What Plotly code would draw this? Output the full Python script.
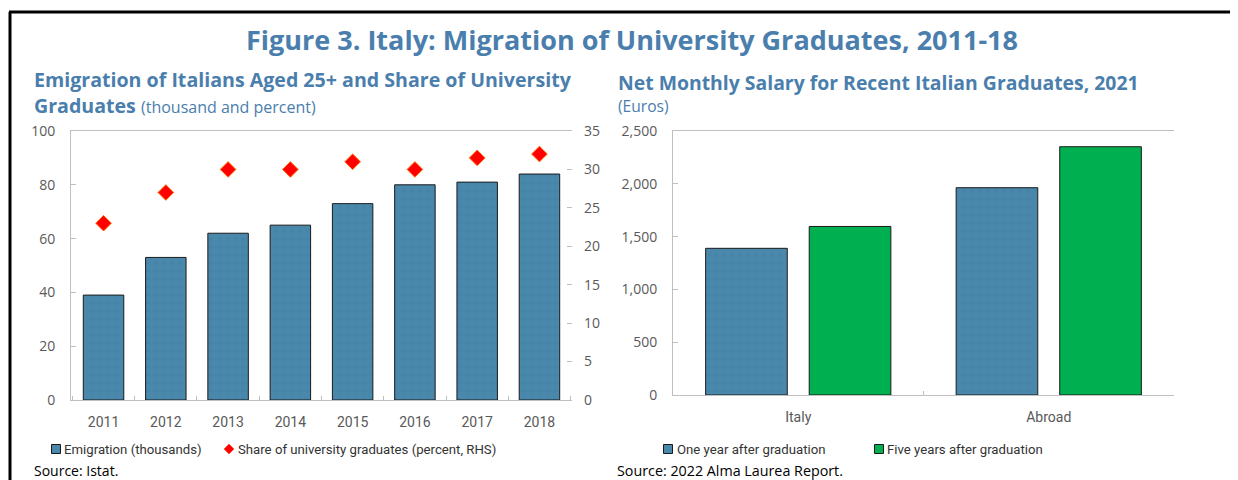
import plotly.graph_objects as go

years = ["2011", "2012", "2013", "2014", "2015", "2016", "2017", "2018"]
emigration = [39, 53, 62, 65, 73, 80, 81, 84]
share_grad = [23.0, 27.0, 30.0, 30.0, 31.0, 30.0, 31.5, 32.0]

regions = ["Italy", "Abroad"]
one_year = [1389, 1963]
five_years = [1596, 2351]

W, H = 1238, 480
OFF = 8  # page body margin
def px(x): return (x - OFF) / W
def py(y): return 1 - (y - OFF) / H

BLUE = "#4A88AB"
GREEN = "#00B050"
TITLE = "#4A7EAD"
TICK = "#595959"
GRID = "#BFBFBF"
FONT = "Open Sans"
LFONT = "Roboto"

fig = go.Figure()
fig.add_trace(go.Bar(
    x=years, y=emigration, name="Emigration (thousands)", width=0.65,
    marker=dict(color=BLUE, line=dict(color="#1a1a1a", width=1),
                pattern=dict(shape=".", fgcolor="#3E7EA3", bgcolor=BLUE, size=8, solidity=0.15)),
    xaxis="x", yaxis="y", showlegend=False))
fig.add_trace(go.Scatter(
    x=years, y=share_grad, name="Share of university graduates (percent, RHS)", mode="markers",
    marker=dict(symbol="diamond", size=12, color="#FF0000", line=dict(color="#FF6600", width=1)),
    xaxis="x", yaxis="y2", showlegend=False))
fig.add_trace(go.Bar(
    x=regions, y=one_year, name="One year after graduation",
    marker=dict(color=BLUE, line=dict(color="#1a1a1a", width=1),
                pattern=dict(shape=".", fgcolor="#3E7EA3", bgcolor=BLUE, size=8, solidity=0.15)),
    xaxis="x3", yaxis="y3", showlegend=False))
fig.add_trace(go.Bar(
    x=regions, y=five_years, name="Five years after graduation",
    marker=dict(color=GREEN, line=dict(color="#1a1a1a", width=1)),
    xaxis="x3", yaxis="y3", showlegend=False))

tickfont = dict(family=FONT, size=14, color=TICK)
xtickfont = dict(family=LFONT, size=14, color=TICK)
common_x = dict(showline=True, linecolor=GRID, linewidth=1, mirror=True, ticks="inside",
                tickson="boundaries", ticklen=4, tickcolor=GRID, tickfont=xtickfont,
                showgrid=False, zeroline=False, fixedrange=True, ticklabelstandoff=9)
common_y = dict(showline=True, linecolor=GRID, linewidth=1, ticks="inside", ticklen=5, tickcolor=GRID,
                tickfont=tickfont, showgrid=False, zeroline=False, ticklabelstandoff=12)

fig.update_layout(
    width=W, height=H, margin=dict(l=0, r=0, t=0, b=0, autoexpand=False),
    paper_bgcolor="white", plot_bgcolor="white",
    font=dict(family=FONT, color=TICK),
    barmode="group", bargap=0.173, bargroupgap=0.212,
    showlegend=False,
    xaxis=dict(domain=[px(71), px(572)], anchor="y", **common_x),
    yaxis=dict(domain=[py(400), py(131)], range=[0, 100], dtick=20, anchor="x", **common_y),
    yaxis2=dict(overlaying="y", side="right", range=[0, 35], dtick=5, anchor="x",
                showline=False, ticks="inside", ticklen=5, tickcolor=GRID, tickfont=tickfont,
                showgrid=False, zeroline=False, ticklabelstandoff=11),
    xaxis3=dict(domain=[px(673), px(1174)], anchor="y3", **common_x),
    yaxis3=dict(domain=[py(395), py(131)], range=[0, 2500], dtick=500, tickformat=",", anchor="x3",
                **common_y),
)

def text(t, x, y, size, color, family=FONT, anchor="left"):
    return dict(text=t, x=px(x), y=py(y), xref="paper", yref="paper", xanchor=anchor,
                yanchor="middle", showarrow=False, font=dict(family=family, size=size, color=color))

ann = [
    text("<b>Figure 3. Italy: Migration of University Graduates, 2011-18</b>", 632, 40, 27, TITLE,
         anchor="center"),
    text("<b>Emigration of Italians Aged 25+ and Share of University</b>", 32, 79, 19.6, TITLE),
    text("<b>Graduates</b> <span style='font-size:16px'>(thousand and percent)</span>", 32, 106, 19.6, TITLE),
    text("<b>Net Monthly Salary for Recent Italian Graduates, 2021</b>", 616, 82, 19.4, TITLE),
    text("(Euros)", 616, 106, 15.6, TITLE),
    text("Source: Istat.", 32, 470, 14, "#000000"),
    text("Source: 2022 Alma Laurea Report.", 615, 470, 14.3, "#000000"),
    text("Emigration (thousands)", 62, 449, 13.2, "#333333", family=LFONT),
    text("Share of university graduates (percent, RHS)", 236, 449, 13.2, "#333333", family=LFONT),
    text("One year after graduation", 675, 449, 13.2, "#333333", family=LFONT),
    text("Five years after graduation", 885, 449, 13.2, "#333333", family=LFONT),
]
fig.update_layout(annotations=ann)

def square(cx, cy, s, color):
    return dict(type="rect", xref="paper", yref="paper",
                x0=px(cx - s / 2), x1=px(cx + s / 2), y0=py(cy + s / 2), y1=py(cy - s / 2),
                fillcolor=color, line=dict(color="#1a1a1a", width=1))

def diamond(cx, cy, r, color):
    pts = [(cx - r, cy), (cx, cy - r), (cx + r, cy), (cx, cy + r)]
    path = "M " + " L ".join(f"{px(a):.5f},{py(b):.5f}" for a, b in pts) + " Z"
    return dict(type="path", xref="paper", yref="paper", path=path, fillcolor=color,
                line=dict(color="#FF3300", width=0.5))

shapes = [
    dict(type="line", xref="paper", yref="paper", x0=px(9), x1=1.0, y0=py(12), y1=py(12),
         line=dict(color="black", width=3)),
    dict(type="line", xref="paper", yref="paper", x0=px(10), x1=px(10), y0=py(12), y1=0,
         line=dict(color="black", width=3)),
    square(56, 449, 9, BLUE),
    diamond(229, 449, 5, "#FF0000"),
    square(668, 449, 9, BLUE),
    square(879, 449, 9, GREEN),
]
fig.update_layout(shapes=shapes)

fig.write_html("out.html")
